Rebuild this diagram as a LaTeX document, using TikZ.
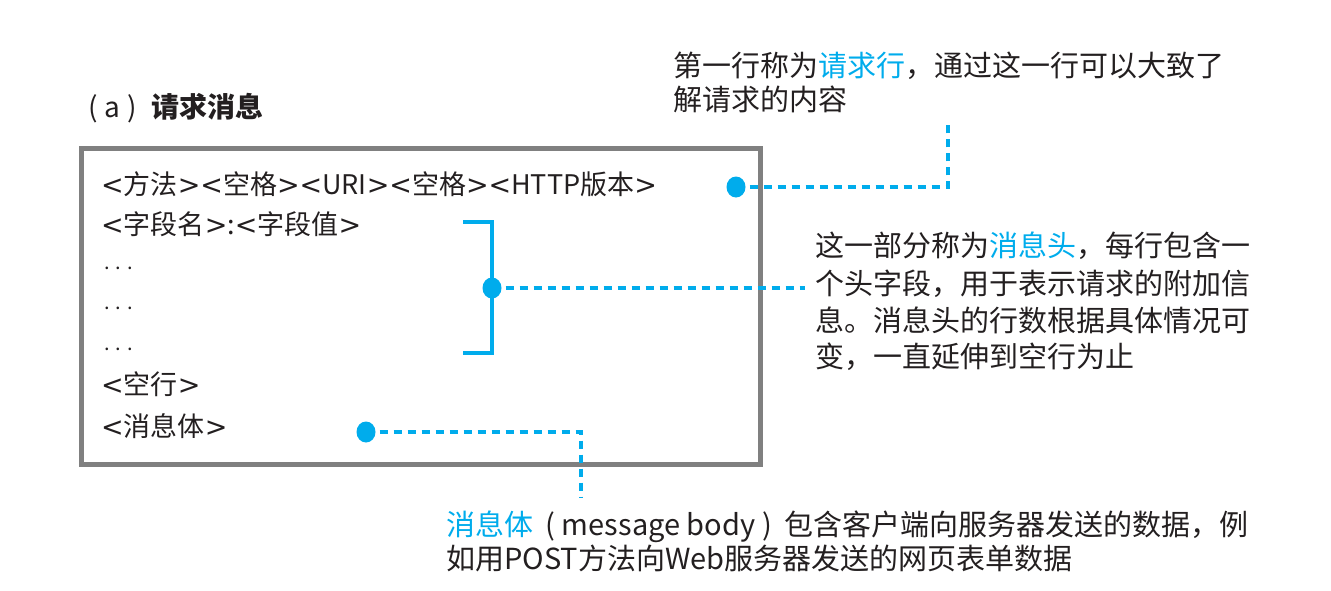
\documentclass[tikz,border=0pt]{standalone}
\usepackage{fontspec}
\setmainfont{Noto Sans CJK SC}
\newfontfamily\brkfont{DejaVu Sans}
\newcommand{\lt}{{\brkfont<}}
\newcommand{\gt}{{\brkfont>}}
\definecolor{accent}{RGB}{0,172,236}
\definecolor{boxgray}{RGB}{128,128,128}
\definecolor{ink}{RGB}{35,31,32}
\tikzset{
  boxtext/.style={anchor=west,inner sep=0pt,text=ink,font=\fontsize{27}{32}\selectfont,text height=17pt,text depth=2pt},
  dottext/.style={anchor=base west,inner sep=0pt,text=ink,font=\fontsize{20}{24}\selectfont},
  note/.style={anchor=west,inner sep=0pt,text=ink,font=\fontsize{29}{34}\selectfont,text height=18pt,text depth=2pt},
  dotmark/.style={ellipse,fill=accent,inner sep=0pt,minimum width=19pt,minimum height=21pt},
  leader/.style={accent,line width=4pt,dash pattern=on 8pt off 6pt},
  bracketline/.style={accent,line width=4pt}
}
\usetikzlibrary{shapes.geometric}
\begin{document}
\begin{tikzpicture}[x=1pt,y=-1pt]
\useasboundingbox (0,0) rectangle (1331,590);
% title
\node[anchor=west,inner sep=0pt,text=ink,font=\fontsize{28}{32}\selectfont,text height=17pt,text depth=2pt] (title) at (88,110) {(\hspace{7pt}a\hspace{7pt})\hspace{15pt}{\bfseries 请求消息}};
% message box
\node[draw=boxgray,line width=5pt,minimum width=679pt,minimum height=316pt,inner sep=0pt] (box) at (421,306.5) {};
% box lines
\node[boxtext] (l1) at (101,187) {\lt 方法\gt\lt 空格\gt\lt URI\gt\lt 空格\gt\lt HTTP版本\gt};
\node[boxtext] (l2) at (101,227) {\lt 字段名\gt:\lt 字段值\gt};
\node[dottext] (l3) at (104,269) {. . .};
\node[dottext] (l4) at (104,309) {. . .};
\node[dottext] (l5) at (104,350) {. . .};
\node[boxtext] (l6) at (101,387) {\lt 空行\gt};
\node[boxtext] (l7) at (101,429) {\lt 消息体\gt};
% bracket
\coordinate (bt1) at (463,222);
\coordinate (bt2) at (492,222);
\coordinate (bb2) at (492,353);
\coordinate (bb1) at (463,353);
\draw[bracketline] (bt1) -- (bt2) -- (bb2) -- (bb1);
% dots
\node[dotmark] (d1) at (736,187) {};
\node[dotmark] (d2) at (492,288) {};
\node[dotmark] (d3) at (366,432) {};
% leader ends
\coordinate (c1) at (948,187);
\coordinate (c1e) at (948,125);
\coordinate (c2e) at (805,288);
\coordinate (c3) at (581,432);
\coordinate (c3e) at (581,497);
\draw[leader] (d1.east) ++(4,0) -- (c1) -- (c1e);
\draw[leader] (d2.east) ++(4,0) -- (c2e);
\draw[leader] (d3.east) ++(4,0) -- (c3) -- (c3e);
% notes
\node[note] (n1a) at (673,68) {第一行称为{\color{accent}请求行}，通过这一行可以大致了};
\node[note] (n1b) at (673,102) {解请求的内容};
\node[note] (n2a) at (815,248) {这一部分称为{\color{accent}消息头}，每行包含一};
\node[note] (n2b) at (815,286) {个头字段，用于表示请求的附加信};
\node[note] (n2c) at (815,323) {息。消息头的行数根据具体情况可};
\node[note] (n2d) at (815,359) {变，一直延伸到空行为止};
\node[note] (n3a) at (446,527) {{\color{accent}消息体}\hspace{12pt}(\hspace{7pt}message body\hspace{7pt})\hspace{12pt}包含客户端向服务器发送的数据，例};
\node[note] (n3b) at (446,561) {如用POST方法向Web服务器发送的网页表单数据};
\end{tikzpicture}
\end{document}
